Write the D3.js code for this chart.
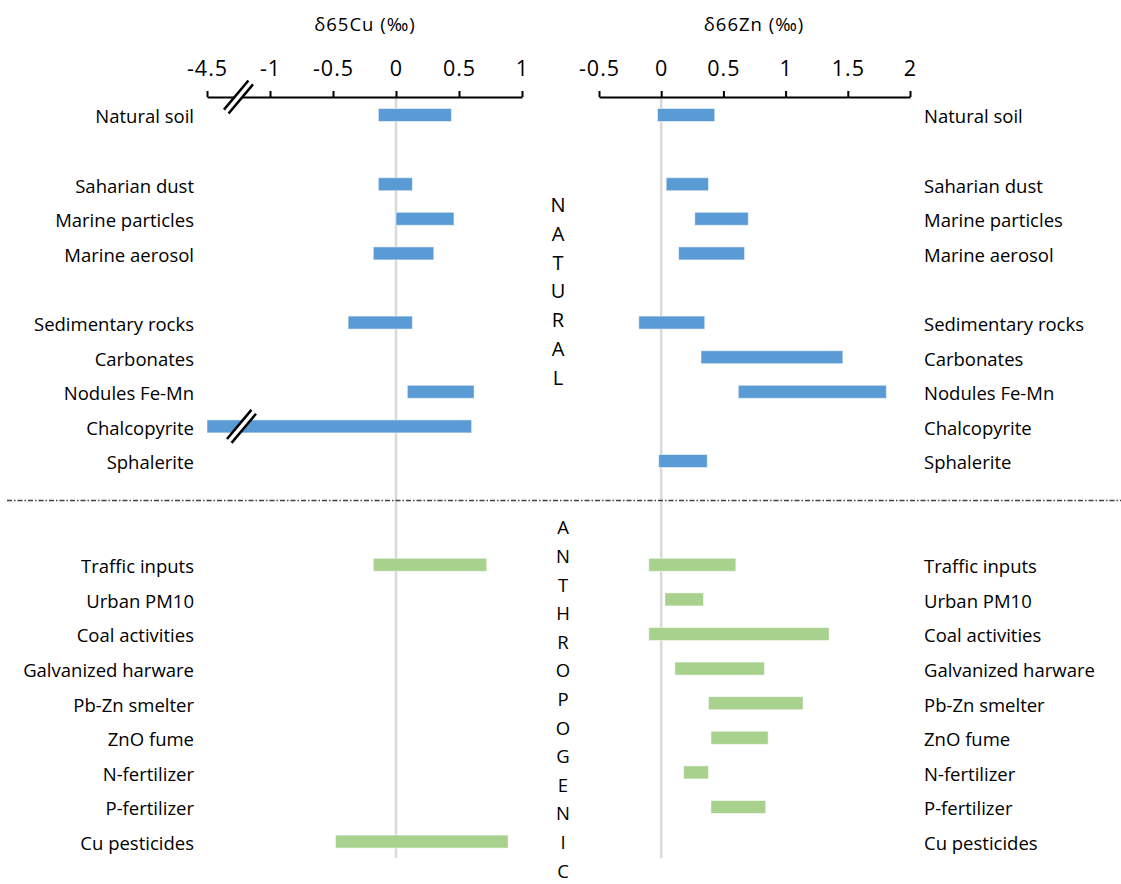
<!DOCTYPE html>
<html><head><meta charset="utf-8">
<script src="https://cdn.jsdelivr.net/npm/d3@7"></script>
<style>body{margin:0;background:#fff}svg{display:block}text{font-family:"Open Sans",sans-serif;fill:#000}</style>
</head><body><svg id="c" width="1121" height="884"></svg>
<script>
// categories (blank rows are spacer rows)
const categories = ["Natural soil","","Saharian dust","Marine particles","Marine aerosol","",
  "Sedimentary rocks","Carbonates","Nodules Fe-Mn","Chalcopyrite","Sphalerite","","",
  "Traffic inputs","Urban PM10","Coal activities","Galvanized harware","Pb-Zn smelter",
  "ZnO fume","N-fertilizer","P-fertilizer","Cu pesticides"];
const group = ["N","","N","N","N","","N","N","N","N","N","","","A","A","A","A","A","A","A","A","A"];
// δ65Cu ranges [min,max] (null = no data)
const cuMin = [-0.14,null,-0.14,0.00,-0.18,null,-0.38,null,0.09,-4.5,null,null,null,-0.18,null,null,null,null,null,null,null,-0.48];
const cuMax = [0.44,null,0.13,0.46,0.30,null,0.13,null,0.62,0.60,null,null,null,0.72,null,null,null,null,null,null,null,0.89];
// δ66Zn ranges
const znMin = [-0.03,null,0.04,0.27,0.14,null,-0.18,0.32,0.62,null,-0.02,null,null,-0.10,0.03,-0.10,0.11,0.38,0.40,0.18,0.40,null];
const znMax = [0.43,null,0.38,0.70,0.67,null,0.35,1.46,1.81,null,0.37,null,null,0.60,0.34,1.35,0.83,1.14,0.86,0.38,0.84,null];
const cuTicks = [-4.5,-1,-0.5,0,0.5,1];
const znTicks = [-0.5,0,0.5,1,1.5,2];
const cuTitle = "δ65Cu (‰)", znTitle = "δ66Zn (‰)";
const word1 = "NATURAL", word2 = "ANTHROPOGENIC";

const svg = d3.select("#c");
const colors = {N:"#5B9BD5", A:"#A9D18E"};
const axisY = 97;
const xCu = d3.scaleLinear().domain([-4.5,-1,1]).range([207,270,522]);
const xZn = d3.scaleLinear().domain([-0.5,2]).range([599,910]);
const y = d3.scalePoint().domain(d3.range(categories.length)).range([115,841.6]);
const barH = 13;

// zero lines
[[xCu,0],[xZn,0]].forEach(([s,v])=>{
  svg.append("line").attr("x1",s(v)).attr("x2",s(v)).attr("y1",axisY).attr("y2",858)
    .attr("stroke","#D9D9D9").attr("stroke-width",2.5);
});

function bars(mins,maxs,x){
  const d = categories.map((c,i)=>({i,lo:mins[i],hi:maxs[i],g:group[i]})).filter(d=>d.lo!=null);
  svg.append("g").selectAll("rect").data(d).join("rect")
    .attr("x",d=>x(d.lo)).attr("width",d=>x(d.hi)-x(d.lo))
    .attr("y",d=>y(d.i)-barH/2).attr("height",barH)
    .attr("fill",d=>colors[d.g]).attr("stroke","#fff").attr("stroke-opacity",0.5).attr("stroke-width",1);
}
bars(cuMin,cuMax,xCu);
bars(znMin,znMax,xZn);

function axis(x,ticks,title,titleX){
  const g = svg.append("g").attr("transform",`translate(0,${axisY})`);
  g.call(d3.axisTop(x).tickValues(ticks).tickSize(6).tickSizeOuter(0).tickFormat(d3.format("")));
  g.select(".domain").attr("stroke","#000").attr("stroke-width",2);
  g.selectAll(".tick line").attr("stroke","#000").attr("stroke-width",2);
  g.selectAll(".tick text").attr("font-family","Open Sans").attr("font-size",21.5).attr("fill","#000")
    .attr("y",-29).attr("dy","0.35em").attr("letter-spacing","1px").text(d=>String(d).replace("-","-"));
  svg.append("text").attr("x",titleX).attr("y",25).attr("dy","0.35em").attr("text-anchor","middle")
    .attr("font-size",18.5).attr("letter-spacing","1px").text(title);
}
axis(xCu,cuTicks,cuTitle,365);
axis(xZn,znTicks,znTitle,754);

// break symbols
function brk(cx,cy){
  const g = svg.append("g").attr("transform",`translate(${cx},${cy}) rotate(-50)`);
  g.append("rect").attr("x",-19).attr("y",-3).attr("width",38).attr("height",6).attr("fill","#fff");
  g.append("line").attr("x1",-19).attr("x2",19).attr("y1",-3).attr("y2",-3).attr("stroke","#000").attr("stroke-width",2.5);
  g.append("line").attr("x1",-19).attr("x2",19).attr("y1",3).attr("y2",3).attr("stroke","#000").attr("stroke-width",2.5);
}
const bx = (xCu(-4.5)+xCu(-1))/2;
brk(bx,axisY);
brk(bx+3,y(categories.indexOf("Chalcopyrite")));

// labels
const lab = categories.map((c,i)=>({c,i})).filter(d=>d.c);
svg.append("g").selectAll("text").data(lab).join("text")
  .attr("x",194).attr("y",d=>y(d.i)+2).attr("dy","0.35em").attr("text-anchor","end")
  .attr("font-size",18.5).text(d=>d.c);
svg.append("g").selectAll("text").data(lab).join("text")
  .attr("x",924).attr("y",d=>y(d.i)+2).attr("dy","0.35em").attr("text-anchor","start")
  .attr("font-size",18.5).text(d=>d.c);

// separator
svg.append("line").attr("x1",7).attr("x2",1121).attr("y1",500.5).attr("y2",500.5)
  .attr("stroke","#404040").attr("stroke-width",1.5).attr("stroke-dasharray","5,2,1.5,2");

// vertical words
svg.append("g").selectAll("text").data(word1.split("")).join("text")
  .attr("x",558).attr("y",(d,i)=>205+i*28.8).attr("dy","0.35em").attr("text-anchor","middle")
  .attr("font-family","Liberation Sans").attr("font-size",20).text(d=>d);
svg.append("g").selectAll("text").data(word2.split("")).join("text")
  .attr("x",563).attr("y",(d,i)=>528+i*28.6).attr("dy","0.35em").attr("text-anchor","middle")
  .attr("font-size",18.5).text(d=>d);
</script></body></html>
